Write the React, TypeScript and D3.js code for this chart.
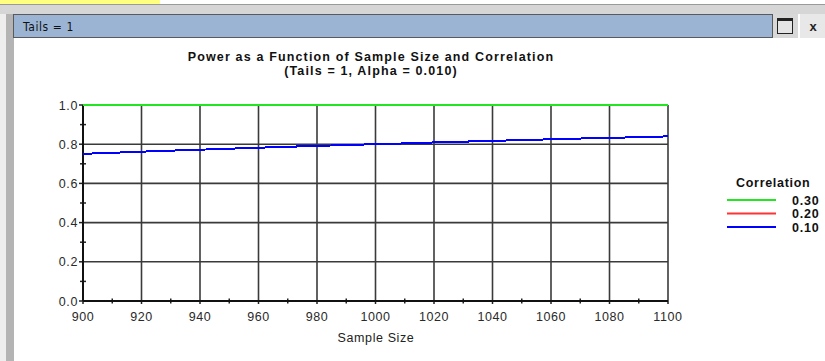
import { useEffect, useRef } from "react";
import * as d3 from "d3";

// sample sizes read along the x axis, one point every 10
const sampleSizes = [900, 910, 920, 930, 940, 950, 960, 970, 980, 990, 1000, 1010, 1020, 1030, 1040, 1050, 1060, 1070, 1080, 1090, 1100];
// power per correlation
const power030 = [1, 1, 1, 1, 1, 1, 1, 1, 1, 1, 1, 1, 1, 1, 1, 1, 1, 1, 1, 1, 1];
const power020 = [1, 1, 1, 1, 1, 1, 1, 1, 1, 1, 1, 1, 1, 1, 1, 1, 1, 1, 1, 1, 1];
const power010 = [0.751, 0.756, 0.762, 0.767, 0.772, 0.777, 0.782, 0.787, 0.791, 0.796, 0.8, 0.804, 0.809, 0.813, 0.817, 0.821, 0.825, 0.829, 0.832, 0.836, 0.84];

const xTicks = [900, 920, 940, 960, 980, 1000, 1020, 1040, 1060, 1080, 1100];
const yTicks = [0, 0.2, 0.4, 0.6, 0.8, 1.0];

const series = [
  { label: "0.30", color: "#22e622", values: power030 },
  { label: "0.20", color: "#ff3333", values: power020 },
  { label: "0.10", color: "#0000ff", values: power010 },
];

export default function App() {
  const svgRef = useRef<SVGSVGElement>(null);

  useEffect(() => {
    if (!svgRef.current) return;
    const W = 825, H = 361;
    const svg = d3.select(svgRef.current);
    svg.selectAll("*").remove();
    svg.attr("width", W).attr("height", H).attr("viewBox", `0 0 ${W} ${H}`);

    const font = "'Liberation Sans', Arial, sans-serif";

    // window chrome
    svg.append("rect").attr("width", W).attr("height", H).attr("fill", "#ffffff");
    svg.append("rect").attr("x", 0).attr("y", 0).attr("width", W).attr("height", 14).attr("fill", "#d6d6d6");
    svg.append("rect").attr("x", 0).attr("y", 0).attr("width", 160).attr("height", 4).attr("fill", "#ffff80");
    svg.append("rect").attr("x", 160).attr("y", 0).attr("width", W - 160).attr("height", 4).attr("fill", "#ffffff");
    svg.append("line").attr("x1", 0).attr("x2", W).attr("y1", 4.5).attr("y2", 4.5).attr("stroke", "#9a9a9a");
    svg.append("rect").attr("x", 0).attr("y", 14).attr("width", 6).attr("height", H - 14).attr("fill", "#eeeeee");
    svg.append("rect").attr("x", 6).attr("y", 14).attr("width", 8).attr("height", H - 14).attr("fill", "#b4b4b4");

    svg.append("rect").attr("x", 13.5).attr("y", 14.5).attr("width", 759).attr("height", 23)
      .attr("fill", "#9bb4d4").attr("stroke", "#5a5a5a");
    svg.append("text").attr("x", 23).attr("y", 30.5).attr("font-family", "'Liberation Sans Narrow', 'DejaVu Sans Condensed', sans-serif")
      .attr("font-size", 12).attr("letter-spacing", 0.6).attr("fill", "#111").text("Tails = 1");

    // maximize button
    svg.append("rect").attr("x", 773).attr("y", 14).attr("width", 25).attr("height", 24).attr("fill", "#d8d8d8");
    svg.append("rect").attr("x", 777.5).attr("y", 18.5).attr("width", 15).attr("height", 15)
      .attr("fill", "#e4e4e4").attr("stroke", "#222").attr("stroke-width", 1);
    svg.append("rect").attr("x", 777.5).attr("y", 18.5).attr("width", 15).attr("height", 2.5).attr("fill", "#222");
    // close button
    svg.append("rect").attr("x", 800).attr("y", 14).attr("width", 25).attr("height", 24).attr("fill", "#e8e8e8");
    svg.append("text").attr("x", 813).attr("y", 30.5).attr("text-anchor", "middle").attr("font-family", font)
      .attr("font-size", 13).attr("font-weight", "bold").attr("fill", "#222").text("x");

    // scales
    const x = d3.scaleLinear().domain([900, 1100]).range([83, 668]);
    const y = d3.scaleLinear().domain([0, 1]).range([301, 105]);

    // title
    svg.append("text").attr("x", 371).attr("y", 60.5).attr("text-anchor", "middle").attr("font-family", font)
      .attr("font-size", 12.5).attr("letter-spacing", 1.15).attr("font-weight", "bold").attr("fill", "#111")
      .text("Power as a Function of Sample Size and Correlation");
    svg.append("text").attr("x", 371).attr("y", 74.5).attr("text-anchor", "middle").attr("font-family", font)
      .attr("font-size", 12.5).attr("letter-spacing", 1.15).attr("font-weight", "bold").attr("fill", "#111")
      .text("(Tails = 1, Alpha = 0.010)");

    const grid = svg.append("g").attr("stroke", "#3a3a3a").attr("stroke-width", 1.6);
    xTicks.forEach(t => {
      grid.append("line").attr("x1", x(t)).attr("x2", x(t)).attr("y1", y(1)).attr("y2", y(0));
    });
    yTicks.forEach(t => {
      grid.append("line").attr("x1", x(900)).attr("x2", x(1100)).attr("y1", y(t)).attr("y2", y(t));
    });

    // minor and major ticks
    const ticks = svg.append("g").attr("stroke", "#222").attr("stroke-width", 1.5);
    d3.range(910, 1100, 20).forEach(t => {
      ticks.append("line").attr("x1", x(t)).attr("x2", x(t)).attr("y1", y(0) - 2.5).attr("y2", y(0) + 2.5);
    });
    d3.range(0.1, 1, 0.2).forEach(t => {
      ticks.append("line").attr("x1", x(900) - 3).attr("x2", x(900) + 3).attr("y1", y(t)).attr("y2", y(t));
    });
    yTicks.forEach(t => {
      ticks.append("line").attr("x1", x(900) - 4).attr("x2", x(900)).attr("y1", y(t)).attr("y2", y(t));
    });
    xTicks.forEach(t => {
      ticks.append("line").attr("x1", x(t)).attr("x2", x(t)).attr("y1", y(0)).attr("y2", y(0) + 3);
    });
    svg.append("line").attr("x1", x(900)).attr("x2", x(1100)).attr("y1", y(0)).attr("y2", y(0))
      .attr("stroke", "#111").attr("stroke-width", 2);
    svg.append("line").attr("x1", x(900)).attr("x2", x(900)).attr("y1", y(1)).attr("y2", y(0))
      .attr("stroke", "#111").attr("stroke-width", 2);

    // tick labels
    yTicks.forEach(t => {
      svg.append("text").attr("x", 78).attr("y", y(t) + 4.5).attr("text-anchor", "end").attr("font-family", font)
        .attr("font-size", 12.5).attr("letter-spacing", 0.6).attr("fill", "#2a2a2a").text(d3.format(".1f")(t));
    });
    xTicks.forEach(t => {
      svg.append("text").attr("x", x(t)).attr("y", 320.5).attr("text-anchor", "middle").attr("font-family", font)
        .attr("font-size", 12.5).attr("letter-spacing", 0.6).attr("fill", "#2a2a2a").text(String(t));
    });
    svg.append("text").attr("x", 376).attr("y", 342).attr("text-anchor", "middle").attr("font-family", font)
      .attr("font-size", 12.5).attr("letter-spacing", 0.6).attr("fill", "#222").text("Sample Size");

    // series, last in the list drawn first so 0.30 ends on top
    const line = d3.line<number>()
      .x((_, i) => x(sampleSizes[i]))
      .y(d => y(d));
    [...series].reverse().forEach(s => {
      svg.append("path").datum(s.values).attr("d", line)
        .attr("fill", "none").attr("stroke", s.color).attr("stroke-width", 2)
        .attr("shape-rendering", "crispEdges");
    });

    // legend
    svg.append("text").attr("x", 736).attr("y", 187).attr("font-family", font)
      .attr("font-size", 12.5).attr("letter-spacing", 0.7).attr("font-weight", "bold").attr("fill", "#111").text("Correlation");
    series.forEach((s, i) => {
      const ly = 200 + i * 13.5;
      svg.append("line").attr("x1", 727).attr("x2", 776).attr("y1", ly).attr("y2", ly)
        .attr("stroke", s.color).attr("stroke-width", 2);
      svg.append("text").attr("x", 792).attr("y", ly + 4.5).attr("font-family", font)
        .attr("font-size", 12.5).attr("letter-spacing", 0.8).attr("font-weight", "bold").attr("fill", "#111").text(s.label);
    });
  }, []);

  return <svg ref={svgRef} style={{ position: "absolute", left: 0, top: 0, display: "block" }} />;
}
